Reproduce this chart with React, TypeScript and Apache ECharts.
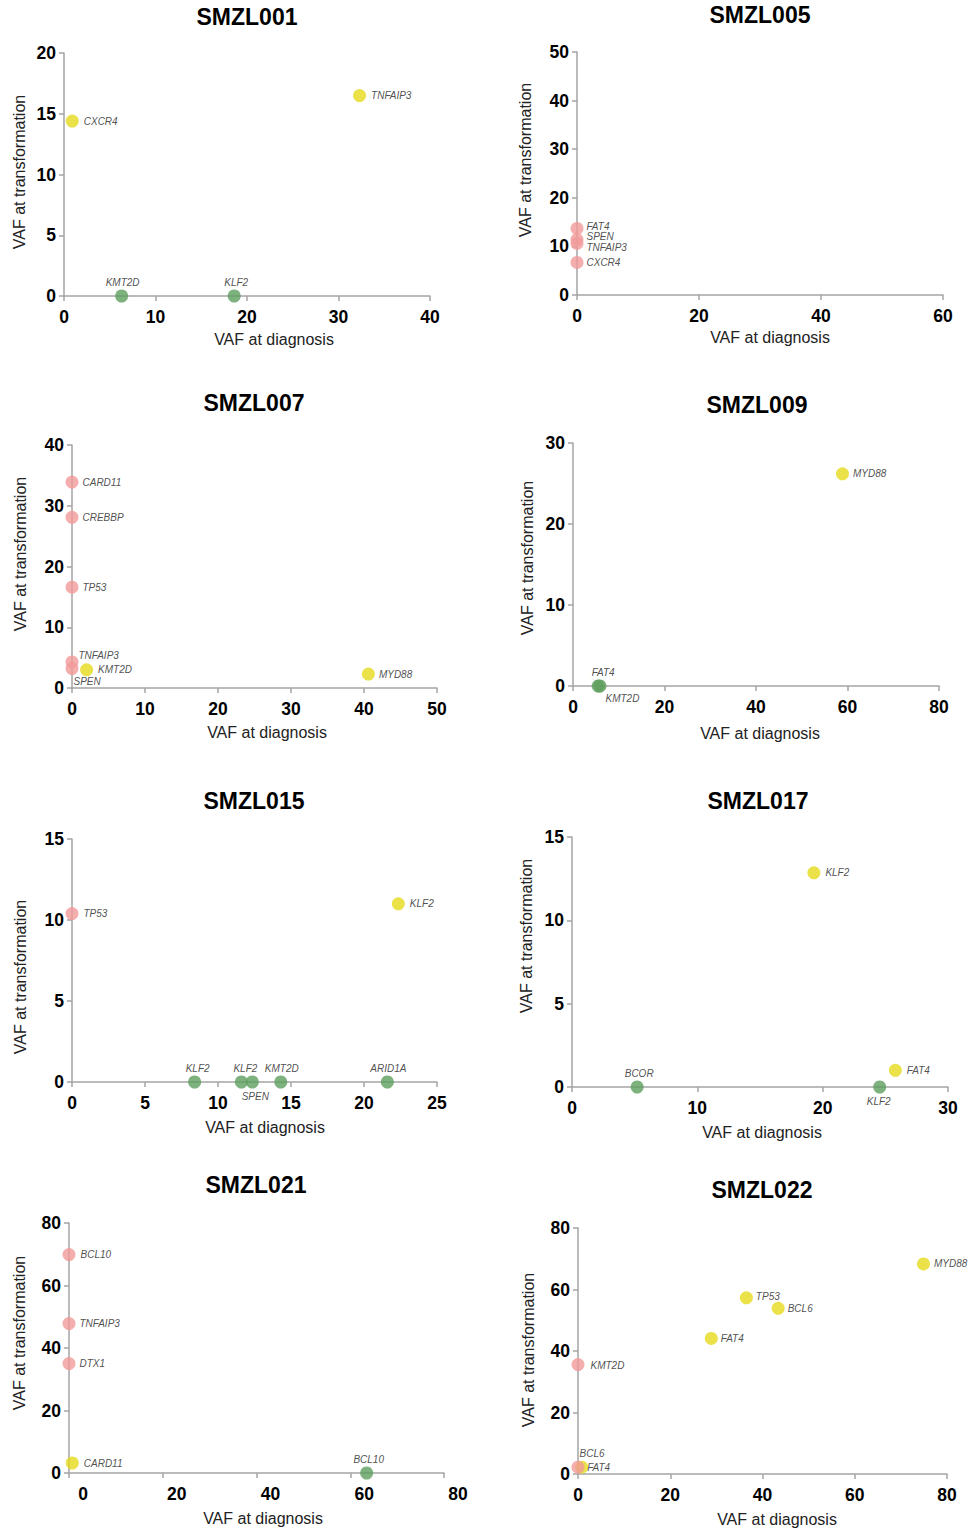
import React, { useEffect, useRef } from "react";
import * as echarts from "echarts";

// ---------- data ----------
const panelTitles = ["SMZL001", "SMZL005", "SMZL007", "SMZL009", "SMZL015", "SMZL017", "SMZL021", "SMZL022"];

const smzl001Genes = ["CXCR4", "TNFAIP3", "KMT2D", "KLF2"];
const smzl001Diag = [0.9, 32.3, 6.3, 18.6];
const smzl001Trans = [14.4, 16.5, 0, 0];

const smzl005Genes = ["FAT4", "SPEN", "TNFAIP3", "CXCR4"];
const smzl005Diag = [0, 0, 0, 0];
const smzl005Trans = [13.7, 11.4, 10.6, 6.7];

const smzl007Genes = ["CARD11", "CREBBP", "TP53", "TNFAIP3", "SPEN", "KMT2D", "MYD88"];
const smzl007Diag = [0, 0, 0, 0, 0, 2.0, 40.6];
const smzl007Trans = [33.9, 28.1, 16.6, 4.3, 3.2, 3.0, 2.3];

const smzl009Genes = ["MYD88", "FAT4", "KMT2D"];
const smzl009Diag = [58.9, 5.5, 5.9];
const smzl009Trans = [26.2, 0, 0];

const smzl015Genes = ["TP53", "KLF2", "KLF2", "KLF2", "SPEN", "KMT2D", "ARID1A"];
const smzl015Diag = [0, 22.35, 8.4, 11.6, 12.35, 14.3, 21.6];
const smzl015Trans = [10.4, 11.0, 0, 0, 0, 0, 0];

const smzl017Genes = ["KLF2", "FAT4", "BCOR", "KLF2"];
const smzl017Diag = [19.3, 25.8, 5.2, 24.55];
const smzl017Trans = [12.85, 1.0, 0, 0];

const smzl021Genes = ["BCL10", "TNFAIP3", "DTX1", "CARD11", "BCL10"];
const smzl021Diag = [0, 0, 0, 0.7, 63.5];
const smzl021Trans = [69.9, 47.8, 35.0, 3.2, 0];

const smzl022Genes = ["MYD88", "TP53", "BCL6", "FAT4", "KMT2D", "FAT4", "BCL6"];
const smzl022Diag = [74.9, 36.5, 43.4, 28.9, 0, 0.8, 0];
const smzl022Trans = [68.3, 57.3, 53.9, 44.1, 35.6, 2.2, 2.2];

const xAxisMax = [40, 60, 50, 80, 25, 30, 80, 80];
const xAxisStep = [10, 20, 10, 20, 5, 10, 20, 20];
const yAxisMax = [20, 50, 40, 30, 15, 15, 80, 80];
const yAxisStep = [5, 10, 10, 10, 5, 5, 20, 20];

const xAxisTitle = "VAF at diagnosis";
const yAxisTitle = "VAF at transformation";

// ---------- layout / style (not data) ----------
const panelGenes = [smzl001Genes, smzl005Genes, smzl007Genes, smzl009Genes, smzl015Genes, smzl017Genes, smzl021Genes, smzl022Genes];
const panelDiag = [smzl001Diag, smzl005Diag, smzl007Diag, smzl009Diag, smzl015Diag, smzl017Diag, smzl021Diag, smzl022Diag];
const panelTrans = [smzl001Trans, smzl005Trans, smzl007Trans, smzl009Trans, smzl015Trans, smzl017Trans, smzl021Trans, smzl022Trans];

// grid: left, top, width, height
const gridBoxes = [
  [64, 53, 366, 243],
  [577, 52, 366, 243],
  [72, 445, 365, 243],
  [573, 443, 366, 243],
  [72, 839, 365, 243],
  [572, 837, 376, 250],
  [69, 1223, 375, 250],
  [578, 1228, 369, 246],
];
const titlePos = [[247, 17], [760, 15], [254, 403], [757, 405], [254, 801], [758, 801], [256, 1185], [762, 1190]];
const xNamePos = [[274, 339], [770, 337], [267, 732], [760, 733], [265, 1127], [762, 1132], [263, 1518], [777, 1519]];
const yNamePos = [[19, 172], [525, 160], [20, 554], [527, 558], [20, 977], [526, 936], [19, 1333], [528, 1350]];

// label placement per point: [position, dx, dy]
const labelPlacement: [string, number, number][][] = [
  [["right", 0, 0], ["right", 0, 0], ["top", 1, 0], ["top", 2, 0]],
  [["right", -2, -2], ["right", -2, -3], ["right", -2, 4], ["right", -2, 0]],
  [["right", -1, 0], ["right", -1, 0], ["right", -1, 0], ["right", -5, -6], ["right", -10, 13], ["right", 0, 0], ["right", -1, 0]],
  [["right", -1, 0], ["top", 5, 0], ["right", -6, 12]],
  [["right", 0, 0], ["right", 0, 0], ["top", 3, 0], ["top", 4, 0], ["bottom", 3, 0], ["top", 1, 0], ["top", 1, 0]],
  [["right", 0, 0], ["right", 0, 0], ["top", 2, 0], ["bottom", -1, 0]],
  [["right", 0, 0], ["right", -1, 0], ["right", -1, 0], ["right", 0, 0], ["top", 2, 0]],
  [["right", -1, 0], ["right", -2, -1], ["right", -2, 0], ["right", -2, 0], ["right", 1, 1], ["right", -6, 0], ["top", 14, 0]],
];

const YELLOW = "#e6da1b";
const PINK = "#f29a9a";
const GREEN = "#5c9e5c";
const AXIS = "#a5a5a5";
const FONT = "'Liberation Sans', Arial, Helvetica, sans-serif";

function pointColor(x: number, y: number) {
  if (x === 0) return PINK;
  if (y === 0) return GREEN;
  return YELLOW;
}

export default function App() {
  const ref = useRef<HTMLDivElement>(null);

  useEffect(() => {
    if (!ref.current) return;
    const chart = echarts.init(ref.current, undefined, { renderer: "svg" });

    const grids: any[] = [];
    const xAxes: any[] = [];
    const yAxes: any[] = [];
    const series: any[] = [];
    const graphics: any[] = [];

    panelTitles.forEach((title, i) => {
      const [l, t, w, h] = gridBoxes[i];
      grids.push({ left: l, top: t, width: w, height: h, containLabel: false, outerBoundsMode: "none" });
      const axisCommon = {
        type: "value",
        gridIndex: i,
        min: 0,
        splitLine: { show: false },
        axisLine: { show: true, onZero: false, lineStyle: { color: AXIS, width: 1.5 } },
        axisTick: { show: true, length: 5, lineStyle: { color: AXIS, width: 1.5 } },
      };
      xAxes.push({
        ...axisCommon,
        max: xAxisMax[i],
        interval: xAxisStep[i],
        axisLabel: {
          fontFamily: FONT,
          fontWeight: "bold",
          fontSize: 17.5,
          color: "#000",
          margin: 12,
          padding: i === 6 ? [0, 0, 0, 28] : 0,
        },
      });
      yAxes.push({
        ...axisCommon,
        max: yAxisMax[i],
        interval: yAxisStep[i],
        axisLabel: { fontFamily: FONT, fontWeight: "bold", fontSize: 17.5, color: "#000", margin: 8 },
      });

      const genes = panelGenes[i];
      const data = genes.map((g, k) => {
        const x = panelDiag[i][k];
        const y = panelTrans[i][k];
        const [pos, dx, dy] = labelPlacement[i][k];
        return {
          name: g,
          value: [x, y],
          itemStyle: { color: pointColor(x, y) },
          label: {
            show: true,
            position: pos,
            distance: pos === "right" ? 5 : pos === "top" ? 2 : 3,
            offset: [dx, dy],
            formatter: g,
          },
        };
      });
      series.push({
        type: "scatter",
        xAxisIndex: i,
        yAxisIndex: i,
        symbol: "circle",
        symbolSize: 13,
        clip: false,
        data,
        label: {
          fontFamily: FONT,
          fontStyle: "italic",
          fontSize: 10,
          color: "#222",
        },
        emphasis: { disabled: true },
      });

      graphics.push({
        type: "text",
        x: titlePos[i][0],
        y: titlePos[i][1],
        style: {
          text: title,
          fontFamily: FONT,
          fontWeight: "bold",
          fontSize: 23,
          fill: "#000",
          align: "center",
          verticalAlign: "middle",
        },
      });
      graphics.push({
        type: "text",
        x: xNamePos[i][0],
        y: xNamePos[i][1],
        style: {
          text: xAxisTitle,
          fontFamily: FONT,
          fontSize: 16,
          fill: "#222",
          align: "center",
          verticalAlign: "middle",
        },
      });
      graphics.push({
        type: "text",
        x: yNamePos[i][0],
        y: yNamePos[i][1],
        rotation: Math.PI / 2,
        style: {
          text: yAxisTitle,
          fontFamily: FONT,
          fontSize: 16,
          fill: "#222",
          align: "center",
          verticalAlign: "middle",
        },
      });
    });

    chart.setOption({
      animation: false,
      backgroundColor: "#fff",
      grid: grids,
      xAxis: xAxes,
      yAxis: yAxes,
      series,
      graphic: graphics,
    });

    return () => chart.dispose();
  }, []);

  return (
    <div
      ref={ref}
      style={{ position: "absolute", left: 0, top: 0, width: 971, height: 1531, background: "#fff" }}
    />
  );
}
